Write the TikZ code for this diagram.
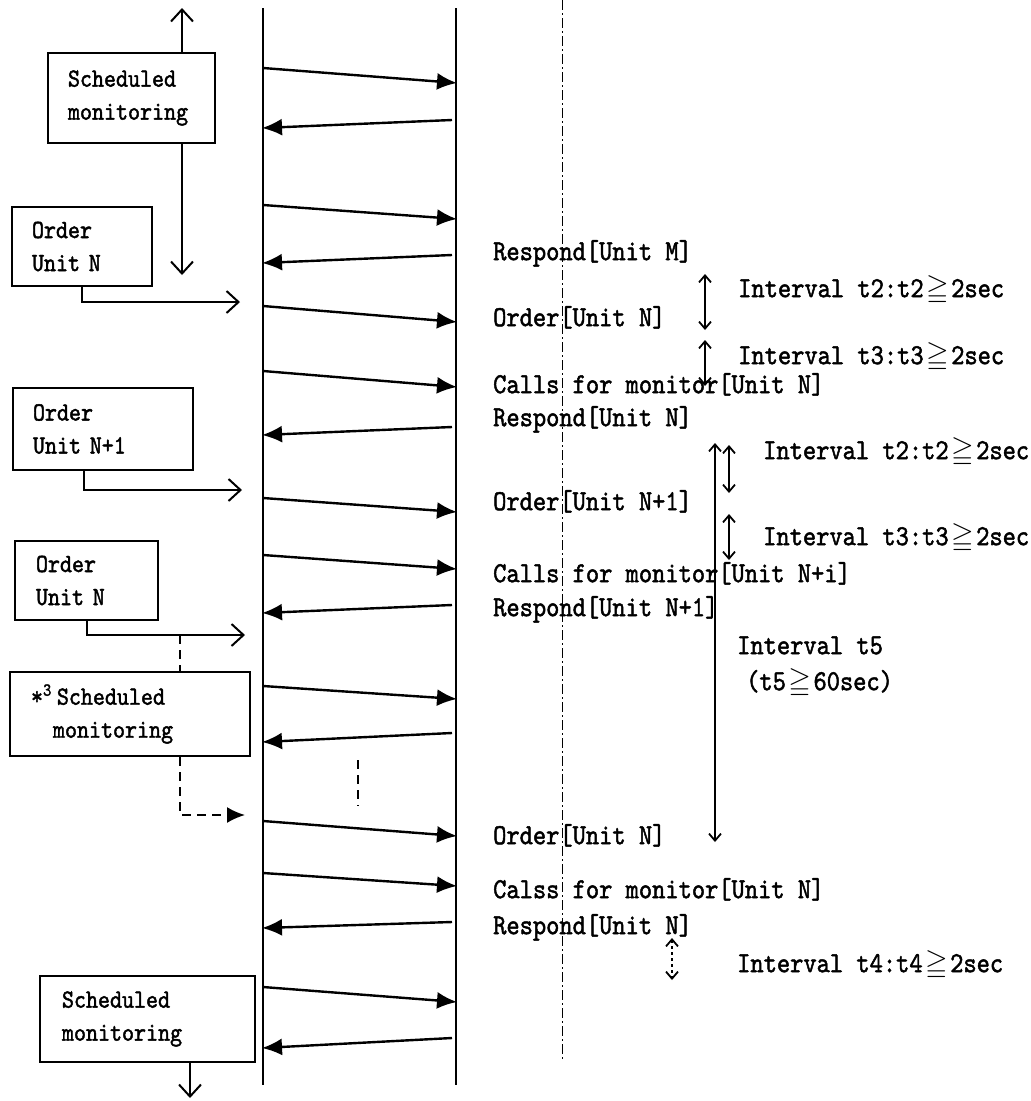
\documentclass[tikz,border=0pt]{standalone}
\usepackage{amssymb}
\usepackage{fontspec}
\newfontfamily\tmono{lmmono10-regular.otf}[FakeBold=1.6,FakeStretch=0.87]
\usetikzlibrary{arrows.meta}
\newcommand{\gqq}{\makebox[0.95em]{$\geqq$}}
\newcommand{\lblfont}{\tmono\fontsize{29}{34}\selectfont}
\newcommand{\boxfont}{\tmono\fontsize{26.3}{33}\selectfont}
\tikzset{
  life/.style={line width=2.2pt},
  msg/.style={line width=2.4pt, -{Latex[length=20pt,width=17pt]}},
  box/.style={draw, line width=2pt, rectangle, align=left, inner ysep=0pt, font=\boxfont},
  openarr/.style={line width=2pt, -{Straight Barb[length=12pt,width=22pt,line width=2pt]}},
  dasharr/.style={line width=2pt, dash pattern=on 9pt off 6pt},
  lbl/.style={anchor=mid west, inner sep=0pt, font=\lblfont},
  ivl/.style={line width=1.8pt, {Straight Barb[length=7pt,width=12pt,line width=1.8pt]}-{Straight Barb[length=7pt,width=12pt,line width=1.8pt]}},
  dotline/.style={line width=1pt, dash pattern=on 10pt off 3pt on 2pt off 3pt},
}
\begin{document}
\begin{tikzpicture}[x=1pt,y=-1pt]
\useasboundingbox (0,0) rectangle (1031,1101);
\fill[white] (0,0) rectangle (1031,1101);

% lifelines
\coordinate (LT) at (263,8);  \coordinate (LB) at (263,1085);
\coordinate (RT) at (456,8);  \coordinate (RB) at (456,1085);
\coordinate (DT) at (562,0);  \coordinate (DB) at (562,1060);
\draw[life] (LT) -- (LB);
\draw[life] (RT) -- (RB);
\draw[dotline] (DT) -- (DB);

% messages left -> right
\foreach \n/\a/\b in {1/68/83, 3/205/219, 5/306/322, 6/371/387, 8/498/512, 9/555/569, 11/686/699, 13/821/836, 14/873/886, 16/987/1002}{
  \coordinate (s\n) at (263,\a); \coordinate (e\n) at (457,\b);
  \draw[msg] (s\n) -- (e\n);
}
% messages right -> left
\foreach \n/\a/\b in {2/120/128, 4/255/263, 7/427/435, 10/605/613, 12/733/742, 15/922/928, 17/1038/1048}{
  \coordinate (s\n) at (452,\a); \coordinate (e\n) at (262,\b);
  \draw[msg] (s\n) -- (e\n);
}
% dashed gap marker
\coordinate (g1) at (358,760); \coordinate (g2) at (358,806);
\draw[dasharr] (g1) -- (g2);

% boxes
\node[box, text width=127pt, inner xsep=20pt, minimum height=90pt] (bA) at (131.5,98) {Scheduled\\monitoring};
\node[box, text width=100pt, inner xsep=20pt, minimum height=79pt] (bB) at (82,246.5) {Order\\Unit N};
\node[box, text width=140pt, inner xsep=20pt, minimum height=82pt] (bC) at (103,429) {Order\\Unit N+1};
\node[box, text width=101pt, inner xsep=21pt, minimum height=79pt] (bD) at (86.5,580.5) {Order\\Unit N};
\node[box, text width=198pt, inner xsep=21pt, minimum height=84pt] (bE) at (130,714) {*\textsuperscript{3}\hspace{5pt}Scheduled\\\hspace*{22pt}monitoring};
\node[box, text width=171pt, inner xsep=22pt, minimum height=86pt] (bF) at (147.5,1019) {Scheduled\\monitoring};

% box connectors
\coordinate (aTop) at (182,8);
\coordinate (aBot) at (182,275);
\draw[openarr] (bA.north -| aTop) -- (aTop);
\draw[openarr] (bA.south -| aBot) -- (aBot);
\coordinate (aB) at (240,302);
\draw[openarr] (bB.south) |- (aB);
\coordinate (sC) at (84,0);
\coordinate (aC) at (242,490);
\draw[openarr] (bC.south -| sC) |- (aC);
\coordinate (aD) at (245,635);
\draw[openarr] (bD.south) |- (aD);
\coordinate (jD) at (180,635);
\draw[dasharr] (jD) -- (bE.north -| jD);
\coordinate (aE) at (245,815);
\draw[dasharr, -{Latex[length=18pt,width=16pt]}] (bE.south -| jD) |- (aE);
\coordinate (aF) at (190,1098);
\draw[openarr] (bF.south -| aF) -- (aF);

% message labels
\node[lbl] (m1) at (493,258) {Respond[Unit M]};
\node[lbl] (m2) at (493,324) {Order[Unit N]};
\node[lbl] (m3) at (493,391) {Calls for monitor[Unit N]};
\node[lbl] (m4) at (493,424) {Respond[Unit N]};
\node[lbl] (m5) at (493,508) {Order[Unit N+1]};
\node[lbl] (m6) at (493,580) {Calls for monitor[Unit N+i]};
\node[lbl] (m7) at (493,614) {Respond[Unit N+1]};
\node[lbl] (m8) at (493,842) {Order[Unit N]};
\node[lbl] (m9) at (493,896) {Calss for monitor[Unit N]};
\node[lbl] (m10) at (493,932) {Respond[Unit N]};

% interval labels
\node[lbl] (i1) at (738,295) {Interval t2:t2\gqq 2sec};
\node[lbl] (i2) at (738,362) {Interval t3:t3\gqq 2sec};
\node[lbl] (i3) at (763,457) {Interval t2:t2\gqq 2sec};
\node[lbl] (i4) at (763,543) {Interval t3:t3\gqq 2sec};
\node[lbl] (i5) at (737,652) {Interval t5};
\node[lbl] (i6) at (746,688) {(t5\gqq 60sec)};
\node[lbl] (i7) at (737,970) {Interval t4:t4\gqq 2sec};

% interval arrows
\coordinate (t2a) at (705,274); \coordinate (t2b) at (705,330);
\draw[ivl] (t2a) -- (t2b);
\coordinate (t3a) at (705,340); \coordinate (t3b) at (705,386);
\draw[ivl] (t3a) -- (t3b);
\coordinate (t5a) at (715,443); \coordinate (t5b) at (715,842);
\draw[ivl] (t5a) -- (t5b);
\coordinate (t2c) at (729,445); \coordinate (t2d) at (729,493);
\draw[ivl] (t2c) -- (t2d);
\coordinate (t3c) at (729,514); \coordinate (t3d) at (729,560);
\draw[ivl] (t3c) -- (t3d);
\coordinate (t4a) at (672,938); \coordinate (t4b) at (672,980);
\draw[ivl, line width=1.2pt, dash pattern=on 3pt off 3pt] (t4a) -- (t4b);
\end{tikzpicture}
\end{document}
